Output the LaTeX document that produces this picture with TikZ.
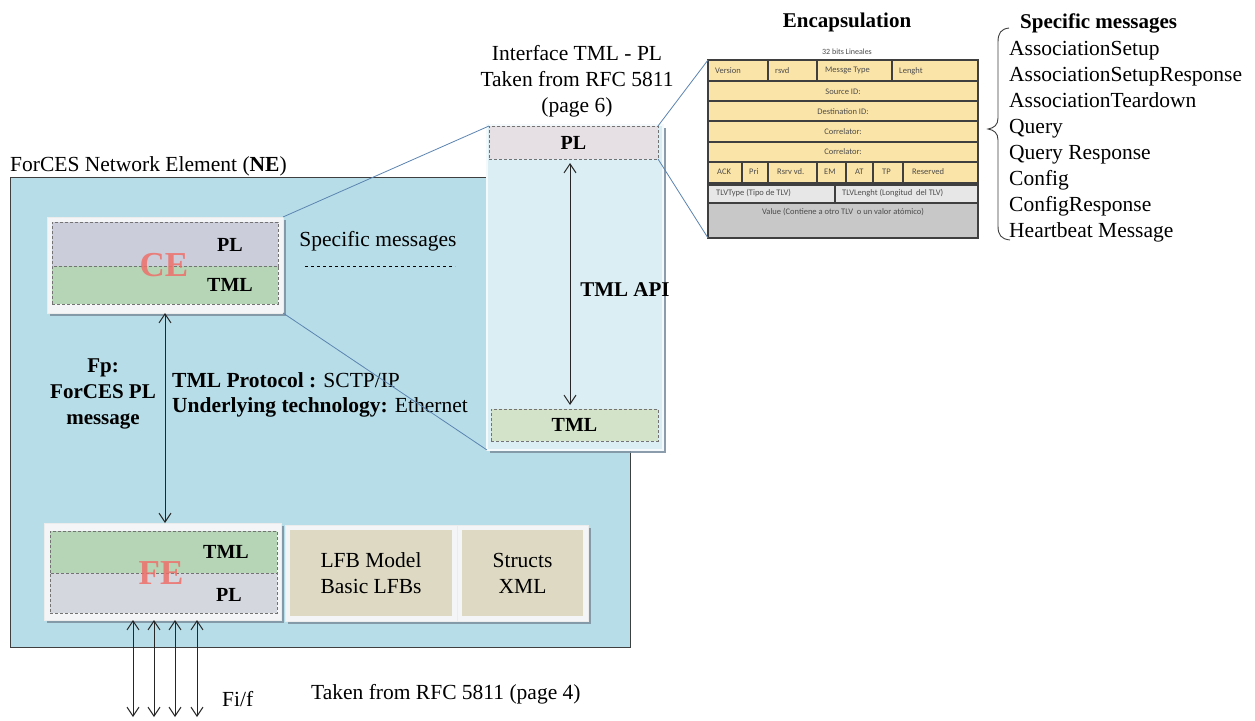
\documentclass[tikz,border=0pt]{standalone}
\usepackage{fontspec}
\setmainfont{Liberation Serif}
\newfontfamily\tabfont{Carlito}
\usetikzlibrary{arrows.meta,shadows}

\definecolor{nebg}{HTML}{B7DDE8}
\definecolor{panelbg}{HTML}{DAEEF3}
\definecolor{plcol}{HTML}{CBCDDB}
\definecolor{feplcol}{HTML}{D5D7DF}
\definecolor{tmlcol}{HTML}{B6D5B6}
\definecolor{tancol}{HTML}{DDD9C3}
\definecolor{framecol}{HTML}{F3F5F6}
\definecolor{shadowcol}{HTML}{7F93A3}
\definecolor{linkblue}{HTML}{5B84B1}
\definecolor{rowyel}{HTML}{FBE4A7}
\definecolor{tlvgray}{HTML}{E7E7E7}
\definecolor{valgray}{HTML}{C8C8C8}
\definecolor{gridcol}{HTML}{3F3F3F}
\definecolor{celetter}{HTML}{EE6F6A}
\definecolor{pplcol}{HTML}{E6DFE4}
\definecolor{ptmlcol}{HTML}{D2E3CA}

\begin{document}
\begin{tikzpicture}[x=1pt,y=-1pt,
  txt/.style={inner sep=0pt, font=\fontsize{21.5}{26}\selectfont},
  boldtxt/.style={inner sep=0pt, font=\fontsize{21}{26}\selectfont\bfseries},
  layerlbl/.style={inner sep=0pt, font=\fontsize{20}{24}\selectfont\bfseries},
  bigletters/.style={inner sep=0pt, font=\fontsize{35}{40}\selectfont\bfseries, text=celetter, text opacity=0.85},
  box/.style={rectangle, inner sep=0pt, outer sep=0pt, anchor=north west},
  nebox/.style={box, fill=nebg, draw=gridcol, line width=1pt},
  boxshadow/.style={drop shadow={shadow xshift=2.5pt, shadow yshift=-3pt, fill=shadowcol, opacity=0.9}},
  framebox/.style={box, fill=framecol, draw=white!85!gray, line width=0.6pt, boxshadow},
  layer/.style={box, draw=black!55, line width=0.8pt, dash pattern=on 3pt off 2pt},
  tanbox/.style={box, fill=tancol},
  link/.style={draw=linkblue, line width=0.8pt},
  arr/.style={{Straight Barb[length=9pt,width=12pt]}-{Straight Barb[length=9pt,width=12pt]}, draw=black!85, line width=1pt},
  grid/.style={draw=gridcol, line width=1.3pt},
  cell/.style={inner sep=0pt, font=\tabfont\fontsize{8.5}{10}\selectfont, text=black!70},
]
\useasboundingbox (0,0) rectangle (1255,720);
\fill[white] (0,0) rectangle (1255,720);

% Network element
\node[nebox, minimum width=620pt, minimum height=470pt] (ne) at (10,177) {};
\node[txt, anchor=base west] (nelbl) at (10,171) {ForCES Network Element (\textbf{NE})};

% Control element
\node[framebox, minimum width=236pt, minimum height=96pt] (ce) at (47,217) {};
\node[layer, fill=plcol, minimum width=226pt, minimum height=44pt] (cepl) at (52,222) {};
\node[layer, fill=tmlcol, minimum width=226pt, minimum height=38pt] (cetml) at (52,266) {};
\node[bigletters] (celtr) at (164,265) {CE};
\node[layerlbl] (cepllbl) at (230,245) {PL};
\node[layerlbl] (cetmllbl) at (230,285) {TML};

\node[txt] (spec) at (378,241) {Specific messages};
\draw[dashed, line width=0.8pt] (305,266) -- (455,266);

% Forwarding element and its models
\node[framebox, minimum width=237pt, minimum height=97pt] (fe) at (44,523) {};
\node[layer, fill=tmlcol, minimum width=227pt, minimum height=42pt] (fetml) at (50,531) {};
\node[layer, fill=feplcol, minimum width=227pt, minimum height=40pt] (fepl) at (50,573) {};
\node[bigletters] (feltr) at (161,573) {FE};
\node[layerlbl] (fetmllbl) at (226,552) {TML};
\node[layerlbl] (fepllbl) at (229,595) {PL};

\node[framebox, minimum width=172pt, minimum height=96pt] (lfbf) at (285,525) {};
\node[tanbox, minimum width=162pt, minimum height=86pt] (lfb) at (290,530) {};
\node[txt, align=center] (lfblbl) at (lfb.center) {LFB Model\\Basic LFBs};

\node[framebox, minimum width=131pt, minimum height=96pt] (stf) at (457,525) {};
\node[tanbox, minimum width=121pt, minimum height=86pt] (st) at (462,530) {};
\node[txt, align=center] (stlbl) at (st.center) {Structs\\XML};

% Fp reference point
\coordinate (fpx) at (165,0);
\draw[arr] (ce.south -| fpx) -- (fe.north -| fpx);
\node[boldtxt, align=center] (fp) at (103,394) {Fp:\\ForCES PL\\message};
\node[txt, anchor=west] (tmlp) at (172,380) {\textbf{TML Protocol :} SCTP/IP};
\node[txt, anchor=west] (under) at (172,407) {\textbf{Underlying technology:} Ethernet};

% Fi/f reference points
\foreach \xx [count=\i] in {133,154,175,197} {
  \coordinate (fi\i) at (\xx,717);
  \draw[arr] (fi\i |- fe.south) -- (fi\i);
}
\node[txt, anchor=base west] (filbl) at (222,706) {Fi/f};
\node[txt, anchor=base west] (rfc4) at (311,699) {Taken from RFC 5811 (page 4)};

% Encapsulation table
\node[boldtxt] (enctitle) at (847,22) {Encapsulation};
\node[cell, font=\tabfont\fontsize{8}{10}\selectfont] (bits) at (847,52) {32 bits Lineales};
\node[box, fill=rowyel, draw=gridcol, line width=1.3pt, minimum width=270pt, minimum height=123pt] (enc) at (708,60) {};
\foreach \yy in {81,101,121,142,162} \draw[grid] (708,\yy) -- (978,\yy);
\foreach \xx in {768,817,892} \draw[grid] (\xx,60) -- (\xx,81);
\foreach \xx in {742,768,817,846,873,903} \draw[grid] (\xx,162) -- (\xx,183);
\node[box, fill=tlvgray, draw=gridcol, line width=1.3pt, minimum width=270pt, minimum height=18pt] (tlv) at (708,185) {};
\node[box, fill=valgray, draw=gridcol, line width=1.3pt, minimum width=270pt, minimum height=35pt] (val) at (708,203) {};
\draw[grid] (835,185) -- (835,203);

\node[cell, anchor=west] at (715,71) {Version};
\node[cell, anchor=west] at (775,71) {rsvd};
\node[cell, anchor=west] at (825,71) {Messge Type};
\node[cell, anchor=west] at (899,71) {Lenght};
\node[cell] at (843,92) {Source ID:};
\node[cell] at (843,112) {Destination ID:};
\node[cell] at (843,132) {Correlator:};
\node[cell] at (843,152) {Correlator:};
\node[cell, anchor=west] at (717,172) {ACK};
\node[cell, anchor=west] at (749,172) {Pri};
\node[cell, anchor=west] at (777,172) {Rsrv vd.};
\node[cell, anchor=west] at (824,172) {EM};
\node[cell, anchor=west] at (855,172) {AT};
\node[cell, anchor=west] at (882,172) {TP};
\node[cell, anchor=west] at (912,172) {Reserved};
\node[cell, anchor=west] at (716,193) {TLVType (Tipo de TLV)};
\node[cell, anchor=west] at (842,193) {TLVLenght (Longitud\ \ del TLV)};
\node[cell] at (843,212) {Value (Contiene a otro TLV\ \ o un valor atómico)};

% TML-PL interface panel
\node[box, fill=panelbg, draw=white!70!panelbg, line width=1.5pt, minimum width=176pt, minimum height=325pt, boxshadow] (panel) at (487,125) {};
\node[layer, fill=pplcol, minimum width=169pt, minimum height=33pt] (ppl) at (489,126) {};
\node[layer, fill=ptmlcol, minimum width=167pt, minimum height=32pt] (ptml) at (491,409) {};
\node[layerlbl] (ppllbl) at (ppl.center) {PL};
\node[layerlbl] (ptmllbl) at (ptml.center) {TML};
\coordinate (apix) at (570,0);
\draw[arr, shorten <=4pt, shorten >=4pt] (ppl.south -| apix) -- (ptml.north -| apix);
\node[boldtxt] (api) at (625,290) {TML API};
\node[txt, align=center] (iface) at (577,81) {Interface TML - PL\\Taken from RFC 5811\\(page 6)};

% Zoom connectors
\draw[link] (ce.north east) -- (ppl.north west);
\draw[link] (ce.south east) -- (panel.south west);
\draw[link] (ppl.north east) -- (enc.north west);
\draw[link] (ppl.south east) -- (val.south west);

% Message list with brace
\node[boldtxt, anchor=base west] (smtitle) at (1020,28) {Specific messages};
\foreach \t [count=\i] in {AssociationSetup, AssociationSetupResponse, AssociationTeardown, Query, Query Response, Config, ConfigResponse, Heartbeat Message}
  \node[txt, anchor=base west] (msg\i) at (1009,{55+26*(\i-1)}) {\t};
\draw[draw=black!75, line width=0.9pt]
  (1009,28) .. controls (1001,29) and (998,33) .. (998,42) -- (998,118)
  .. controls (998,125) and (994,128) .. (988,129)
  .. controls (994,130) and (998,133) .. (998,140) -- (998,226)
  .. controls (998,235) and (1001,239) .. (1010,240);
\end{tikzpicture}
\end{document}
